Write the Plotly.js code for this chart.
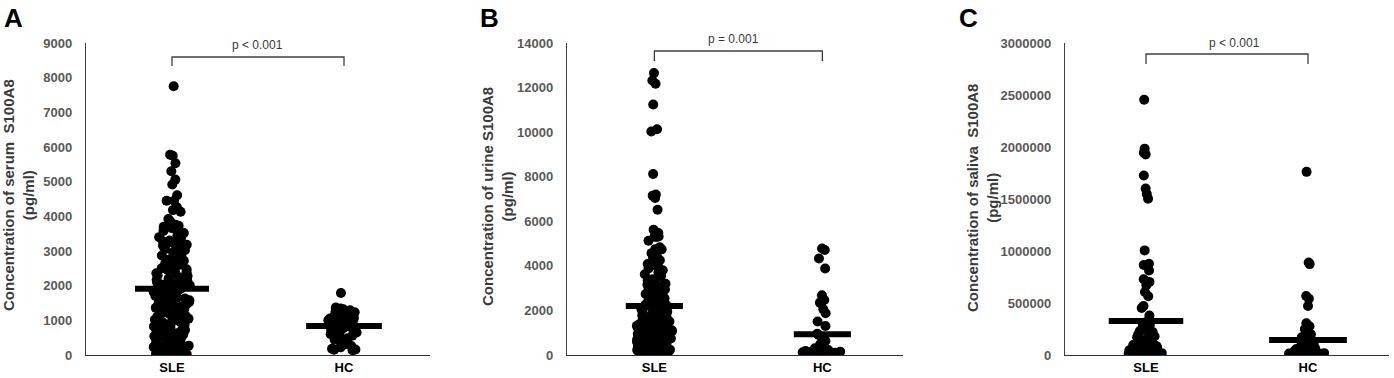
<!DOCTYPE html>
<html>
<head>
<meta charset="utf-8">
<script src="https://cdn.plot.ly/plotly-3.0.1.min.js"></script>
<style>
  body { margin: 0; background: #ffffff; }
  #plot { width: 1394px; height: 378px; }
</style>
</head>
<body>
<div id="plot"></div>
<script>
// groups on the x axis
var groups = ['SLE', 'HC'];

// serum S100A8 (pg/ml)
var serumSLE = [
    7750, 5780, 5750, 5530, 5300, 5060, 4920, 4610, 4450, 4450, 4260, 4180, 4130, 3920,
    3850, 3760, 3730, 3700, 3660, 3620, 3580, 3520, 3450, 3400, 3380, 3350, 3300, 3280,
    3250, 3200, 3180, 3150, 3120, 3100, 3080, 3050, 3020, 3000,
    2960, 2930, 2900, 2870, 2840, 2800, 2780, 2750, 2720, 2690, 2650, 2620, 2600, 2570,
    2540, 2500, 2470, 2450, 2420, 2390, 2360, 2330, 2300, 2280, 2250, 2220, 2200, 2170,
    2140, 2120, 2100, 2070, 2050, 2030, 2010,
    1990, 1970, 1950, 1920, 1900, 1880, 1860, 1840, 1820, 1800, 1780, 1750, 1730, 1700,
    1680, 1650, 1630, 1600, 1580, 1560, 1530, 1500, 1480, 1460, 1430, 1400, 1380, 1360,
    1330, 1300, 1280, 1250, 1230, 1200, 1180, 1150, 1130, 1100, 1080, 1050, 1020,
    990, 960, 950, 940, 910, 880, 870, 850, 820, 800, 790, 770, 740, 720, 710, 680, 660,
    650, 620, 600, 590, 570, 540, 530, 510, 480, 470, 450, 420, 410, 390, 360, 350, 330,
    300, 290, 270, 240, 230, 210, 180, 170, 150, 120, 110, 90, 60, 50, 40, 30, 20, 10
];
var serumHC = [
    1790, 1370, 1340, 1320, 1290, 1260, 1230, 1200, 1180, 1150, 1130, 1100, 1080, 1050,
    1020, 1000, 980, 960, 940, 920, 900, 880, 850, 820, 800, 780, 750, 720, 690, 650,
    620, 600, 560, 520, 480, 440, 400, 350, 300, 260, 220, 180, 160, 150, 140
];

// urine S100A8 (pg/ml)
var urineSLE = [
    12650, 12320, 12170, 11240, 10130, 10030, 8120, 7200, 7150, 7050, 6520,
    5620, 5470, 5320, 5320, 5300, 5130, 4830, 4750, 4740, 4570, 4400, 4380, 4250,
    4080, 4030, 4000, 3880, 3800, 3700, 3620, 3560, 3500,
    3400, 3350, 3300, 3250, 3200, 3150, 3100, 3060, 3020, 2980, 2940, 2900, 2860, 2820,
    2780, 2740, 2700, 2660, 2620, 2580, 2540, 2500, 2460, 2420, 2380, 2340, 2300, 2260,
    2220, 2180, 2140, 2100, 2060, 2020, 1980, 1940, 1900, 1860, 1820, 1780, 1740, 1700,
    1660, 1620, 1580, 1540, 1500, 1460, 1420, 1380, 1340, 1300, 1260, 1220, 1180, 1140,
    1100, 1060, 1020, 980, 940, 900, 860, 820, 780, 740, 700, 660, 620, 580, 540, 500,
    460, 420, 380, 340, 300, 260, 220, 200, 180, 160, 140, 120, 100,
    1480, 1440, 1400, 1350, 1310, 1270, 1230, 1190, 1150, 1110, 1070, 1030, 990, 950,
    910, 870, 830, 790, 750, 710, 670, 630, 590, 550, 510, 470, 430, 390, 350, 310,
    290, 270, 250, 230, 210, 190, 170, 150, 130, 110,
    800, 740, 690, 640, 590, 540, 500, 460, 420, 380, 340, 300, 260, 220, 180
];
var urineHC = [
    4780, 4710, 4330, 3880, 2680, 2470, 2350, 2310, 2050, 1870, 1500, 1300,
    950, 900, 800, 630, 480, 330, 250, 180, 180, 150, 120, 100, 100, 100, 80, 60, 50, 40,
    300, 250, 220, 200, 150, 130, 100, 80, 60, 50, 30, 20
];

// saliva S100A8 (pg/ml)
var salivaSLE = [
    2455000, 1984000, 1945000, 1929000, 1726000, 1600000, 1548000, 1503000,
    1006000, 877000, 865000, 813000, 729000, 703000, 671000, 606000, 565000,
    471000, 452000, 380000,
    330000, 300000, 290000, 270000, 250000, 240000, 230000, 220000, 200000, 190000,
    180000, 170000, 160000, 150000, 140000, 130000, 120000, 110000, 100000, 95000,
    90000, 80000, 70000, 65000, 60000, 50000, 45000, 40000, 35000, 30000,
    25000, 20000, 18000, 15000, 12000, 10000, 8000, 5000, 3000, 1000,
    100000, 90000, 85000, 75000, 70000, 60000, 55000, 50000, 45000, 40000,
    35000, 30000, 28000, 25000, 22000, 20000, 15000, 12000, 10000, 8000,
    6000, 4000, 2000, 1000
];
var salivaHC = [
    1761000, 890000, 874000, 568000, 542000, 471000, 306000, 277000, 250000, 219000,
    200000, 190000, 170000, 160000, 150000, 130000, 120000, 110000, 100000, 90000,
    80000, 70000, 60000, 50000, 45000, 40000, 35000, 30000, 25000, 20000,
    15000, 12000, 10000, 8000, 5000, 3000, 2000, 1000,
    80000, 70000, 60000, 55000, 45000, 40000, 35000, 30000, 25000, 20000,
    18000, 15000, 12000, 10000, 8000, 6000, 4000, 2000
];

// group means (horizontal bars)
var serumMean = [1910, 840];
var urineMean = [2200, 930];
var salivaMean = [326000, 145000];

// panel labels and texts
var panelLetters = ['A', 'B', 'C'];
var pTexts = ['p < 0.001', 'p = 0.001', 'p < 0.001'];
var yTitles = [
    'Concentration of serum  S100A8<br>(pg/ml)',
    'Concentration of urine S100A8<br>(pg/ml)',
    'Concentration of saliva  S100A8<br>(pg/ml)'
];
var yMax = [9000, 14000, 3000000];
var yStep = [1000, 2000, 500000];

var W = 1394, H = 378;
var fontFam = '"Liberation Sans", Arial, sans-serif';

// a dot column drawn with the box trace's own jitter, box itself hidden
function dots(values, pos, ax, width) {
    return {
        type: 'box',
        y: values,
        x0: pos,
        xaxis: 'x' + ax,
        yaxis: 'y' + ax,
        boxpoints: 'all',
        jitter: 1,
        pointpos: 0,
        width: width,
        fillcolor: 'rgba(0,0,0,0)',
        line: {width: 0, color: 'rgba(0,0,0,0)'},
        whiskerwidth: 0,
        marker: {color: '#000000', size: 10},
        hoverinfo: 'y',
        showlegend: false
    };
}

// thick horizontal mean bar
function meanBar(mean, pos, ax, half) {
    return {
        type: 'scatter',
        mode: 'lines',
        x: [pos - half, pos + half],
        y: [mean, mean],
        xaxis: 'x' + ax,
        yaxis: 'y' + ax,
        line: {color: '#000000', width: 6},
        hoverinfo: 'y',
        showlegend: false
    };
}

var traces = [
    dots(serumSLE, 0, '', 0.22), dots(serumHC, 1, '', 0.2),
    dots(urineSLE, 0, '2', 0.21), dots(urineHC, 1, '2', 0.24),
    dots(salivaSLE, 0, '3', 0.22), dots(salivaHC, 1, '3', 0.24),
    meanBar(serumMean[0], 0, '', 0.215), meanBar(serumMean[1], 1, '', 0.22),
    meanBar(urineMean[0], 0, '2', 0.17), meanBar(urineMean[1], 1, '2', 0.17),
    meanBar(salivaMean[0], 0, '3', 0.23), meanBar(salivaMean[1], 1, '3', 0.24)
];

// pixel placement of the three panels
var xDom = [[86, 430], [567, 903], [1065, 1389]];
var xRanges = [[-0.5, 1.5], [-0.52, 1.48], [-0.5, 1.5]];
var yDom = [(H - 355) / H, (H - 43) / H];
var letterX = [2, 478, 957];
var pPos = [[257, 45], [733, 39], [1234, 43]];
var bracketPx = [[57, 66], [51, 61], [54, 64]];
var titlePos = [[19, 195], [497, 197], [982, 198]];

var layout = {
    width: W,
    height: H,
    margin: {l: 0, r: 0, t: 0, b: 0},
    paper_bgcolor: '#ffffff',
    plot_bgcolor: '#ffffff',
    showlegend: false,
    boxmode: 'overlay',
    font: {family: fontFam},
    annotations: [],
    shapes: []
};

for (var i = 0; i < 3; i++) {
    var sfx = i === 0 ? '' : String(i + 1);
    layout['xaxis' + sfx] = {
        domain: [xDom[i][0] / W, xDom[i][1] / W],
        range: xRanges[i],
        anchor: 'y' + sfx,
        tickvals: [0, 1],
        ticktext: groups,
        ticks: '',
        ticklabelstandoff: 0,
        tickfont: {size: 13, color: '#000000', weight: 'bold', family: fontFam},
        showgrid: false,
        zeroline: false,
        showline: true,
        linecolor: '#303030',
        linewidth: 1.2,
        fixedrange: true
    };
    layout['yaxis' + sfx] = {
        domain: yDom,
        range: [0, yMax[i]],
        anchor: 'x' + sfx,
        dtick: yStep[i],
        tick0: 0,
        tickformat: 'd',
        ticks: '',
        ticklabelstandoff: 10,
        tickfont: {size: 13, color: '#595959', weight: 'bold', family: fontFam},
        showgrid: false,
        zeroline: false,
        showline: true,
        linecolor: '#404040',
        linewidth: 1.2,
        fixedrange: true
    };

    // panel letter
    layout.annotations.push({
        xref: 'paper', yref: 'paper',
        x: letterX[i] / W, y: 1 - 1 / H,
        xanchor: 'left', yanchor: 'top',
        text: panelLetters[i],
        showarrow: false,
        font: {size: 26, color: '#000000', weight: 'bold', family: fontFam}
    });
    // y axis title (two lines, rotated)
    layout.annotations.push({
        xref: 'paper', yref: 'paper',
        x: titlePos[i][0] / W, y: (H - titlePos[i][1]) / H,
        xanchor: 'center', yanchor: 'middle',
        text: yTitles[i],
        textangle: -90,
        showarrow: false,
        font: {size: 15, color: '#3a3a3a', weight: 'bold', family: fontFam}
    });
    // p value
    layout.annotations.push({
        xref: 'paper', yref: 'paper',
        x: pPos[i][0] / W, y: (H - pPos[i][1]) / H,
        xanchor: 'center', yanchor: 'middle',
        text: pTexts[i],
        showarrow: false,
        font: {size: 12, color: '#3a3a3a', family: fontFam}
    });
    // bracket between the two groups
    layout.shapes.push({
        type: 'path',
        xref: 'x' + sfx, yref: 'paper',
        path: 'M 0,' + ((H - bracketPx[i][1]) / H) +
              ' L 0,' + ((H - bracketPx[i][0]) / H) +
              ' L 1,' + ((H - bracketPx[i][0]) / H) +
              ' L 1,' + ((H - bracketPx[i][1]) / H),
        line: {color: '#404040', width: 1.3}
    });
}

Plotly.newPlot('plot', traces, layout, {staticPlot: true, displayModeBar: false});
</script>
</body>
</html>
